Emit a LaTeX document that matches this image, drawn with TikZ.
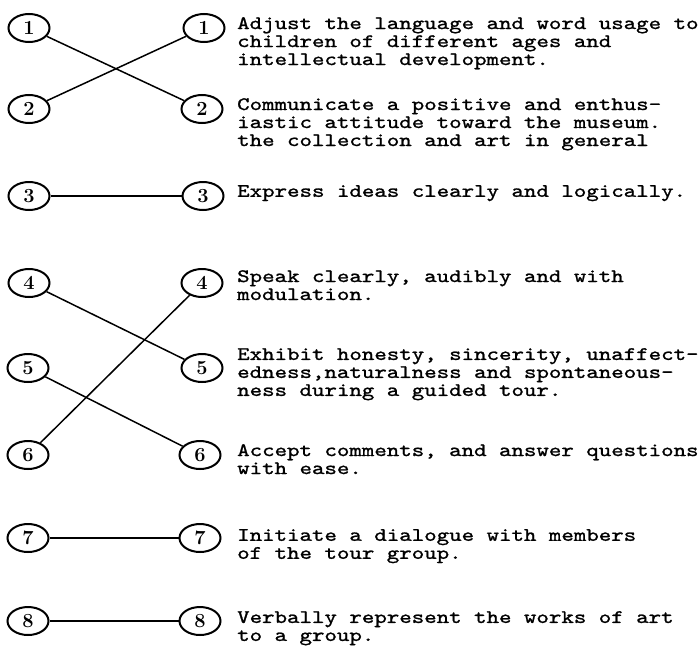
\documentclass[tikz,border=0pt]{standalone}
\usepackage{fontspec}
\newfontfamily\typew{lmmono10-regular}[Extension=.otf, FakeStretch=1.25, FakeBold=1.2]
\newcommand\desctextfont{\typew\fontsize{19}{18}\selectfont\lineskiplimit=-100pt\relax}
\usetikzlibrary{shapes.geometric}
\begin{document}
\begin{tikzpicture}[x=1pt,y=-1pt]
\tikzset{
  num/.style={ellipse, draw, line width=2pt, minimum width=41pt, minimum height=28pt, inner sep=0pt, font=\fontsize{20}{20}\selectfont\bfseries},
  desc/.style={anchor=north west, inner sep=0pt, align=left, font=\desctextfont},
  link/.style={line width=1.5pt}
}
\useasboundingbox[fill=white] (0,0) rectangle (700,653);
% left column
\node[num] (l1) at (29,28) {1};
\node[num] (l2) at (29,109) {2};
\node[num] (l3) at (29,196) {3};
\node[num] (l4) at (29,283) {4};
\node[num] (l5) at (28,368) {5};
\node[num] (l6) at (28,455) {6};
\node[num] (l7) at (28,538) {7};
\node[num] (l8) at (28,621) {8};
% right column
\node[num] (r1) at (204,28) {1};
\node[num] (r2) at (202,109) {2};
\node[num] (r3) at (203,196) {3};
\node[num] (r4) at (202,283) {4};
\node[num] (r5) at (202,368) {5};
\node[num] (r6) at (200,455) {6};
\node[num] (r7) at (200,538) {7};
\node[num] (r8) at (200,621) {8};
% connectors
\draw[link] (l1) -- (r2);
\draw[link] (l2) -- (r1);
\draw[link] (l3) -- (r3);
\draw[link] (l4) -- (r5);
\draw[link] (l5) -- (r6);
\draw[link] (l6) -- (r4);
\draw[link] (l7) -- (r7);
\draw[link] (l8) -- (r8);
% descriptions
\node[desc] (t1) at (237,17) {Adjust the language and word usage to\\children of different ages and\\intellectual development.};
\node[desc] (t2) at (237,98) {Communicate a positive and enthus-\\iastic attitude toward the museum.\\the collection and art in general};
\node[desc] (t3) at (237,185) {Express ideas clearly and logically.};
\node[desc] (t4) at (237,270) {Speak clearly, audibly and with\\modulation.};
\node[desc] (t5) at (237,348) {Exhibit honesty, sincerity, unaffect-\\edness,naturalness and spontaneous-\\ness during a guided tour.};
\node[desc] (t6) at (237,444) {Accept comments, and answer questions\\with ease.};
\node[desc] (t7) at (237,529) {Initiate a dialogue with members\\of the tour group.};
\node[desc] (t8) at (237,611) {Verbally represent the works of art\\to a group.};
\end{tikzpicture}
\end{document}
